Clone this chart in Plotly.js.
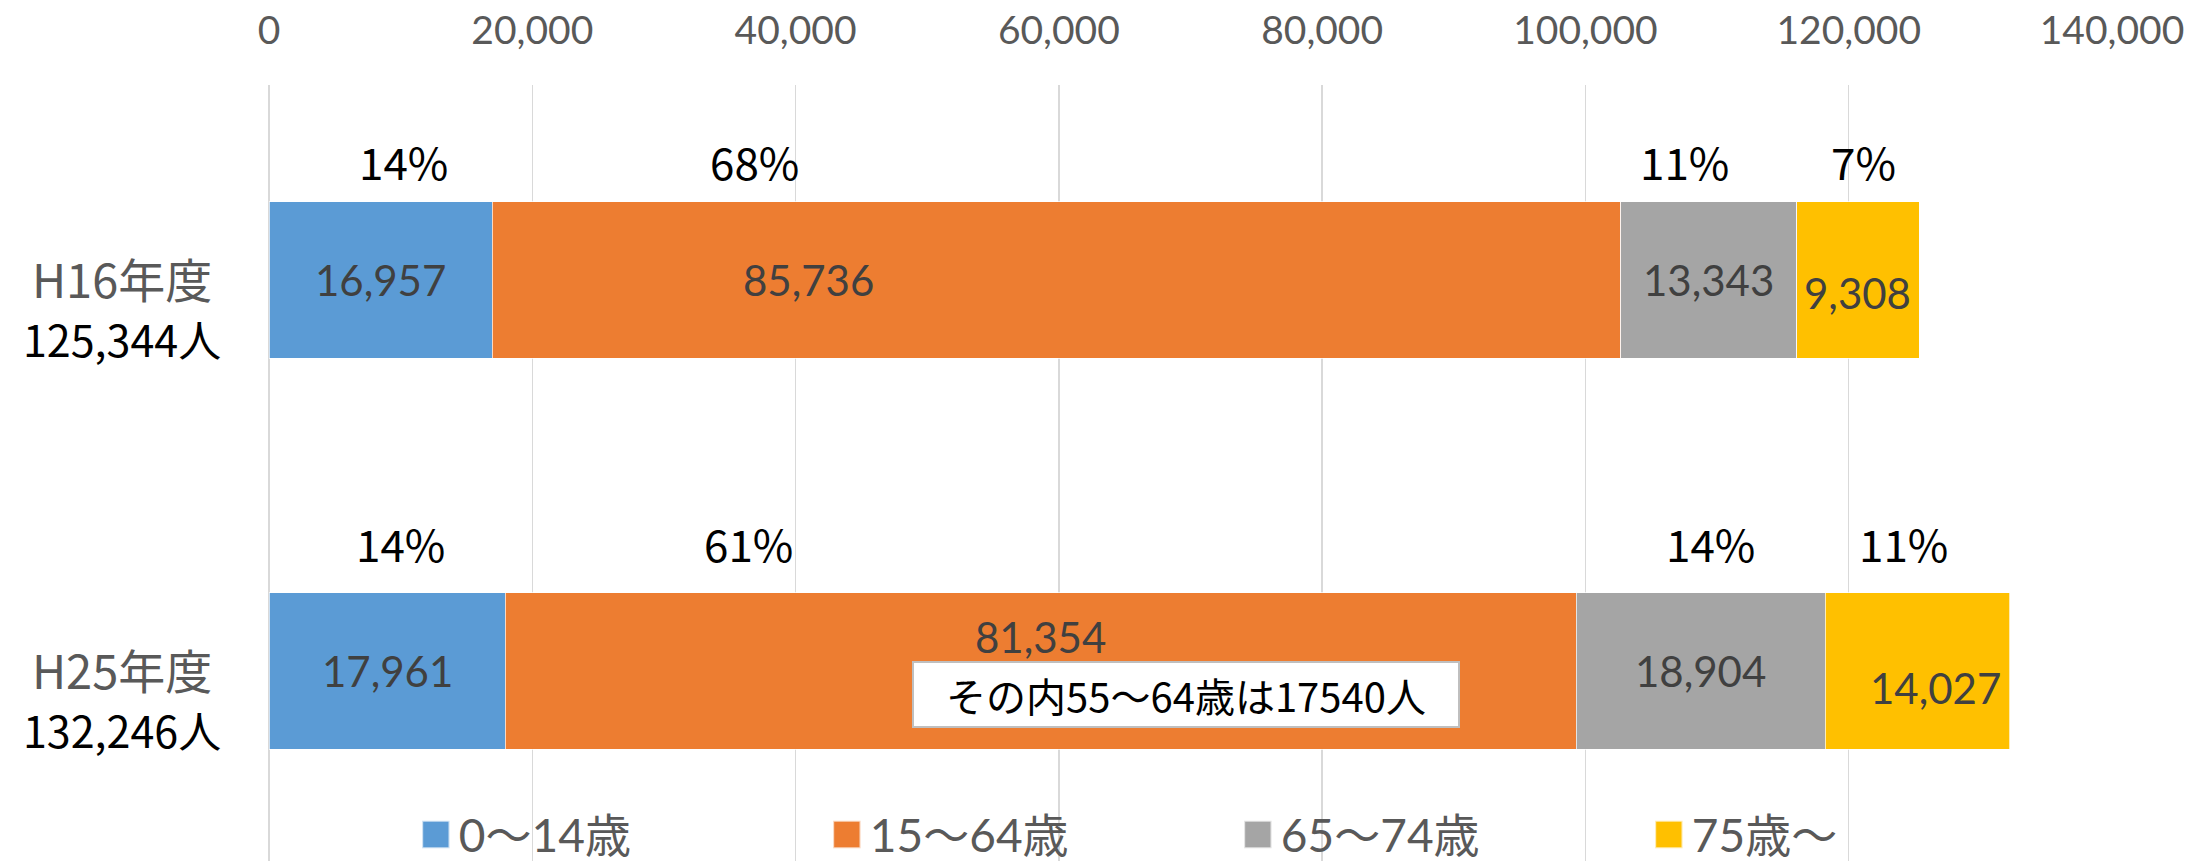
<!DOCTYPE html>
<html>
<head>
<meta charset="utf-8">
<script src="https://cdn.plot.ly/plotly-3.0.1.min.js"></script>
<style>
  html, body { margin: 0; padding: 0; background: #ffffff; overflow: hidden; }
  #chart { width: 2186px; height: 861px; }
  .legend .scrollbox { clip-path: none !important; }
  .legend .legendpoints path { transform: translate(17px, 0px) scale(2.3); }
</style>
</head>
<body>
<div id="chart"></div>
<script>
// ---- data ----
const years = ['H16年度', 'H25年度'];
const totals = ['125,344人', '132,246人'];
const seriesNames = ['0～14歳', '15～64歳', '65～74歳', '75歳～'];
const age0to14 = [16957, 17961];
const age15to64 = [85736, 81354];
const age65to74 = [13343, 18904];
const age75plus = [9308, 14027];
const pct0to14 = ['14%', '14%'];
const pct15to64 = ['68%', '61%'];
const pct65to74 = ['11%', '14%'];
const pct75plus = ['7%', '11%'];
const note55to64 = 17540;
const xTickVals = [0, 20000, 40000, 60000, 80000, 100000, 120000, 140000];

// ---- styling ----
const colors = ['#5B9BD5', '#ED7D31', '#A5A5A5', '#FFC000'];
const series = [age0to14, age15to64, age65to74, age75plus];
const pcts = [pct0to14, pct15to64, pct65to74, pct75plus];
// label offsets in px [series][row] = [dx, dy]
const valueShift = [
  [[0, 0], [0, 0]],
  [[-248, 0], [0, 34]],
  [[0, 0], [0, 0]],
  [[0, -13], [18, -17]]
];
const pctShift = [[23, 13], [-302, -292], [-24, 10], [6, -14]];
const pctLift = [119, 128];

const traces = series.map((vals, i) => ({
  type: 'bar',
  orientation: 'h',
  name: seriesNames[i],
  y: years,
  x: vals,
  width: 0.4,
  marker: { color: colors[i], line: { color: 'rgba(255,255,255,0.7)', width: 1 } },
  hoverinfo: 'skip'
}));

const annotations = [];
const fmt = v => v.toLocaleString('en-US');
years.forEach((yr, r) => {
  let start = 0;
  series.forEach((vals, i) => {
    const mid = start + vals[r] / 2;
    annotations.push({
      x: mid, y: yr, xref: 'x', yref: 'y', text: fmt(vals[r]), showarrow: false,
      xanchor: 'center', yanchor: 'middle',
      xshift: valueShift[i][r][0], yshift: valueShift[i][r][1],
      font: { family: 'Lato, Liberation Sans, sans-serif', size: 42, color: '#404040' }
    });
    annotations.push({
      x: mid, y: yr, xref: 'x', yref: 'y', text: pcts[i][r], showarrow: false,
      xanchor: 'center', yanchor: 'middle',
      xshift: pctShift[i][r], yshift: pctLift[r],
      font: { family: 'Noto Sans CJK JP, sans-serif', size: 44, color: '#000000' }
    });
    start += vals[r];
  });
  // category label (two lines)
  annotations.push({
    x: 0, y: yr, xref: 'paper', yref: 'y',
    text: '<span style="font-size:47px;color:#595959">' + yr + '</span><br>' +
          '<span style="font-size:43px;color:#000000">' + totals[r] + '</span>',
    showarrow: false, align: 'center',
    xanchor: 'center', yanchor: 'middle', xshift: -147, yshift: -26,
    font: { family: 'Noto Sans CJK JP, sans-serif', size: 45, color: '#000000' }
  });
});

// note box inside the 15-64 bar of H25
annotations.push({
  x: age0to14[1] + age15to64[1] / 2, y: years[1], xref: 'x', yref: 'y',
  text: 'その内55～64歳は' + note55to64 + '人', showarrow: false,
  xanchor: 'center', yanchor: 'middle', xshift: 145, yshift: -23,
  width: 544, height: 63, align: 'center', valign: 'middle',
  bgcolor: '#ffffff', bordercolor: '#BFBFBF', borderwidth: 2, borderpad: 0,
  font: { family: 'Noto Sans CJK JP, sans-serif', size: 40, color: '#000000' }
});

const layout = {
  width: 2186, height: 861,
  margin: { l: 269, r: 74, t: 85, b: 0, pad: 0, autoexpand: false },
  paper_bgcolor: '#ffffff', plot_bgcolor: '#ffffff',
  barmode: 'stack',
  showlegend: true,
  legend: {
    orientation: 'h', x: 0.0813, xanchor: 'left', y: 0.034, yanchor: 'middle',
    bgcolor: 'rgba(0,0,0,0)', borderwidth: 0,
    entrywidth: 366, entrywidthmode: 'pixels', traceorder: 'normal',
    font: { family: 'Lato, Noto Sans CJK JP, sans-serif', size: 46, color: '#595959' }
  },
  xaxis: {
    side: 'top', range: [0, 140000], tickvals: xTickVals, tickformat: ',d',
    showgrid: true, gridcolor: '#D9D9D9', gridwidth: 1.5,
    zeroline: true, zerolinecolor: '#D9D9D9', zerolinewidth: 1.5,
    showline: false, ticks: '', ticklabelstandoff: 32,
    tickfont: { family: 'Lato, Liberation Sans, sans-serif', size: 39, color: '#595959' },
    fixedrange: true
  },
  yaxis: {
    type: 'category', range: [1.486, -0.499], showticklabels: false,
    showgrid: false, zeroline: false, showline: false, ticks: '', fixedrange: true
  },
  annotations: annotations,
  hovermode: false
};

Plotly.newPlot('chart', traces, layout, { staticPlot: true, displayModeBar: false });
</script>
</body>
</html>
